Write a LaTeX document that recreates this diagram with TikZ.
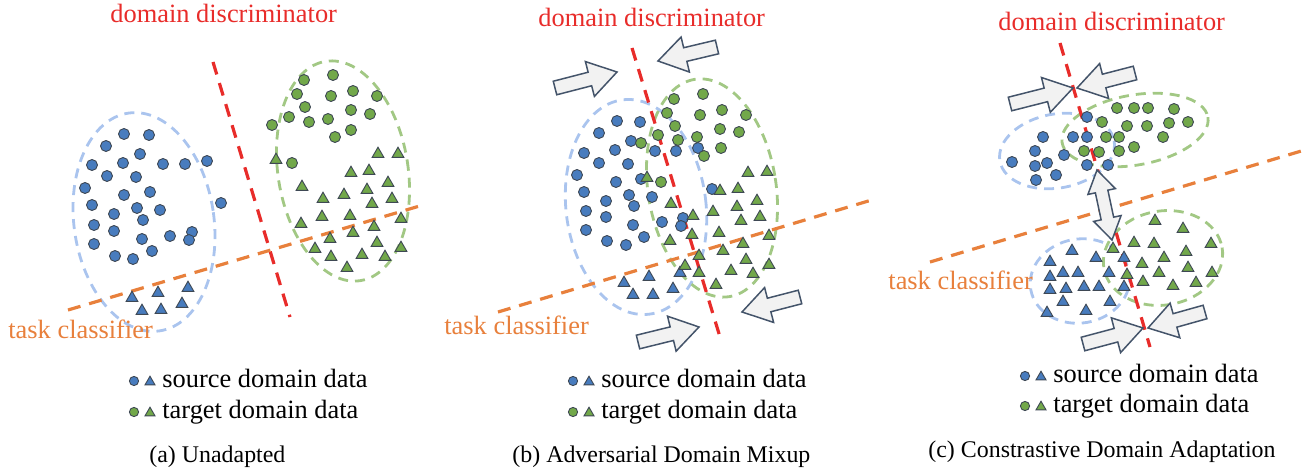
\documentclass[tikz,border=0pt]{standalone}
\usepackage{fontspec}
\setmainfont{LiberationSerif}[Extension=.ttf, UprightFont=*-Regular, BoldFont=*-Bold, ItalicFont=*-Italic, BoldItalicFont=*-BoldItalic]
\usetikzlibrary{shapes.geometric,calc,positioning}
\definecolor{discred}{RGB}{232,44,42}
\definecolor{taskorange}{RGB}{232,128,60}
\definecolor{srcblue}{RGB}{72,124,190}
\definecolor{tgtgreen}{RGB}{114,168,74}
\definecolor{ringblue}{RGB}{170,196,238}
\definecolor{ringgreen}{RGB}{162,200,132}
\definecolor{arrowedge}{RGB}{68,84,106}
\definecolor{arrowfill}{RGB}{242,242,242}
\definecolor{dotedge}{RGB}{62,72,84}
\tikzset{
    srcdot/.style ={circle, draw=dotedge, fill=srcblue, line width=0.45pt, inner sep=0pt, minimum size=5.5pt},
    tgtdot/.style ={srcdot, fill=tgtgreen},
    srctri/.style ={regular polygon, regular polygon sides=3, draw=dotedge, fill=srcblue, line width=0.45pt, inner sep=0pt, minimum size=6.8pt},
    tgttri/.style ={srctri, fill=tgtgreen},
    keydot/.style ={srcdot, minimum size=4.6pt},
    keytri/.style ={srctri, minimum size=5.8pt},
    srcring/.style ={ringblue, line width=1.4pt, dash pattern=on 5pt off 3.5pt},
    tgtring/.style ={ringgreen, line width=1.4pt, dash pattern=on 5pt off 3.5pt},
    discline/.style ={discred, line width=1.6pt, dash pattern=on 6.5pt off 4.5pt},
    taskline/.style ={taskorange, line width=1.6pt, dash pattern=on 6.5pt off 4.5pt},
    blockarrow/.style ={draw=arrowedge, fill=arrowfill, line width=0.75pt, line join=miter},
    disclabel/.style ={text=discred, inner sep=0pt, anchor=base west, font=\fontsize{13.2pt}{16pt}\selectfont},
    tasklabel/.style ={disclabel, text=taskorange},
    keylabel/.style ={disclabel, text=black},
    caption/.style ={inner sep=0pt, anchor=base west, font=\fontsize{11.95pt}{14pt}\selectfont}
}
% block arrow from tail #1 to tip #2
\newcommand{\blockarrow}[2]{%
    \coordinate (hb) at ($(#2)!14pt!(#1)$);
    \draw[blockarrow] ($(#1)!3.5pt!90:(#2)$) -- ($(hb)!3.5pt!90:(#2)$) -- ($(hb)!9pt!90:(#2)$) -- (#2)
        -- ($(hb)!9pt!-90:(#2)$) -- ($(hb)!3.5pt!-90:(#2)$) -- ($(#1)!3.5pt!-90:(#2)$) -- cycle;
}
% arrow with heads at both tips
\newcommand{\twowayarrow}[2]{%
    \coordinate (hb1) at ($(#1)!11pt!(#2)$);
    \coordinate (hb2) at ($(#2)!11pt!(#1)$);
    \draw[blockarrow] (#1) -- ($(hb1)!7pt!90:(#2)$) -- ($(hb1)!3.2pt!90:(#2)$) -- ($(hb2)!3.2pt!-90:(#1)$)
        -- ($(hb2)!7pt!-90:(#1)$) -- (#2) -- ($(hb2)!7pt!90:(#1)$) -- ($(hb2)!3.2pt!90:(#1)$)
        -- ($(hb1)!3.2pt!-90:(#2)$) -- ($(hb1)!7pt!-90:(#2)$) -- cycle;
}

\begin{document}
\begin{tikzpicture}[x=0.5pt, y=-0.5pt]
    \useasboundingbox (0,0) rectangle (1315,470);

    % (a) Unadapted

    %%Clusters
    \draw[srcring, rotate around={8:(144,222)}] (144,222) ellipse [x radius=70, y radius=110];
    \draw[tgtring, rotate around={9:(343,171)}] (343,171) ellipse [x radius=65, y radius=111];

    %%Boundaries
    \coordinate (a-disc-top) at (213,62);
    \coordinate (a-disc-bot) at (290,317);
    \coordinate (a-task-left) at (68,310);
    \coordinate (a-task-right) at (423,205);
    \draw[discline] (a-disc-top) -- (a-disc-bot);
    \draw[taskline] (a-task-left) -- (a-task-right);

    %%Data
    \foreach \px/\py [count=\i] in {124/134, 149/135, 106/146, 140/154, 92/165, 123/163, 163/164, 185/164, 207/161, 107/176, 136/177, 85/188, 124/195, 150/192, 92/205, 137/208, 160/210, 221/203, 114/214, 143/220, 94/225, 114/231, 170/236, 192/232, 189/240, 142/239, 94/244, 152/251, 115/256, 133/259}
        \node[srcdot] (a-s\i) at (\px,\py) {};
    \foreach \px/\py [count=\i] in {132/298, 158/293, 188/288, 142/311, 161/310, 182/304}
        \node[srctri] (a-st\i) at (\px,\py) {};
    \foreach \px/\py [count=\i] in {304/80, 333/75, 297/94, 331/96, 353/91, 377/96, 305/107, 351/110, 370/114, 289/117, 309/122, 328/119, 272/125, 335/137, 351/130, 292/163}
        \node[tgtdot] (a-t\i) at (\px,\py) {};
    \foreach \px/\py [count=\i] in {276/160, 378/154, 398/154, 351/173, 369/171, 302/187, 388/183, 323/199, 344/195, 367/190, 372/204, 392/199, 301/224, 322/217, 350/216, 401/219, 374/227, 353/233, 330/239, 315/249, 377/243, 401/248, 331/257, 362/255, 385/257, 347/268}
        \node[tgttri] (a-tt\i) at (\px,\py) {};

    %%Labels
    \node[disclabel] (a-disc) at (110,23) {domain discriminator};
    \node[tasklabel] (a-task) at (8,338) {task classifier};
    \node[keydot] (a-ks) at (134,381) {};
    \node[keytri] (a-kst) at (150,382) {};
    \node[keylabel] (a-src) at (162,387) {source domain data};
    \node[keydot, fill=tgtgreen] (a-kt) at (134,412) {};
    \node[keytri, fill=tgtgreen] (a-ktt) at (150,413) {};
    \node[keylabel] (a-tgt) at (162,418) {target domain data};
    \node[caption] (a-cap) at (149,462) {(a) Unadapted};

    % (b) Adversarial Domain Mixup

    %%Clusters
    \draw[srcring, rotate around={7:(636,207)}] (636,207) ellipse [x radius=70, y radius=108];
    \draw[tgtring, rotate around={9:(712,188)}] (712,188) ellipse [x radius=64, y radius=110];

    %%Boundaries
    \coordinate (b-disc-top) at (632,48);
    \coordinate (b-disc-bot) at (720,337);
    \coordinate (b-task-left) at (498,312);
    \coordinate (b-task-right) at (875,199);
    \draw[discline] (b-disc-top) -- (b-disc-bot);
    \draw[taskline] (b-task-left) -- (b-task-right);

    %%Data
    \foreach \px/\py [count=\i] in {617/121, 640/122, 599/133, 631/141, 584/153, 615/150, 655/151, 676/151, 698/148, 599/163, 628/164, 577/175, 616/182, 641/179, 584/192, 629/195, 652/197, 712/189, 606/201, 634/206, 586/211, 606/217, 633/225, 662/222, 683/218, 681/226, 586/230, 607/241, 626/245, 644/237}
        \node[srcdot] (b-s\i) at (\px,\py) {};
    \foreach \px/\py [count=\i] in {624/283, 649/277, 680/273, 633/295, 653/295, 673/289}
        \node[srctri] (b-st\i) at (\px,\py) {};
    \foreach \px/\py [count=\i] in {674/99, 703/94, 667/113, 700/115, 722/110, 746/115, 675/126, 720/129, 739/132, 658/135, 678/140, 697/137, 641/143, 721/148, 704/156, 661/182}
        \node[tgtdot] (b-t\i) at (\px,\py) {};
    \foreach \px/\py [count=\i] in {647/178, 748/173, 767/172, 720/191, 738/189, 671/204, 757/201, 693/216, 713/212, 737/207, 741/221, 760/217, 670/241, 692/235, 719/233, 769/236, 743/244, 723/251, 699/256, 685/266, 746/260, 769/265, 699/273, 731/271, 753/274, 716/285}
        \node[tgttri] (b-tt\i) at (\px,\py) {};

    %%Pushes
    \coordinate (b-tl-tail) at (555,88);
    \coordinate (b-tl-tip) at (617,72);
    \coordinate (b-tr-tail) at (717,47);
    \coordinate (b-tr-tip) at (658,61);
    \coordinate (b-br-tail) at (800,297);
    \coordinate (b-br-tip) at (742,312);
    \coordinate (b-bl-tail) at (638,342);
    \coordinate (b-bl-tip) at (699,327);
    \blockarrow{b-tl-tail}{b-tl-tip}
    \blockarrow{b-tr-tail}{b-tr-tip}
    \blockarrow{b-br-tail}{b-br-tip}
    \blockarrow{b-bl-tail}{b-bl-tip}

    %%Labels
    \node[disclabel] (b-disc) at (538,27) {domain discriminator};
    \node[tasklabel] (b-task) at (444,334) {task classifier};
    \node[keydot] (b-ks) at (573,381) {};
    \node[keytri] (b-kst) at (589,382) {};
    \node[keylabel] (b-src) at (601,387) {source domain data};
    \node[keydot, fill=tgtgreen] (b-kt) at (573,412) {};
    \node[keytri, fill=tgtgreen] (b-ktt) at (589,413) {};
    \node[keylabel] (b-tgt) at (601,418) {target domain data};
    \node[caption] (b-cap) at (512,462) {(b) Adversarial Domain Mixup};

    % (c) Constrastive Domain Adaptation

    %%Clusters
    \draw[srcring, rotate around={10:(1057,151)}] (1057,151) ellipse [x radius=58, y radius=37];
    \draw[tgtring, rotate around={10:(1135,130)}] (1135,130) ellipse [x radius=74, y radius=35];
    \draw[srcring, rotate around={10:(1080,281)}] (1080,281) ellipse [x radius=50, y radius=42];
    \draw[tgtring, rotate around={10:(1163,258)}] (1163,258) ellipse [x radius=60, y radius=47];

    %%Boundaries
    \coordinate (c-disc-top) at (1060,43);
    \coordinate (c-disc-bot) at (1150,347);
    \coordinate (c-task-left) at (930,262);
    \coordinate (c-task-right) at (1308,149);
    \draw[discline] (c-disc-top) -- (c-disc-bot);
    \draw[taskline] (c-task-left) -- (c-task-right);

    %%Data
    \foreach \px/\py [count=\i] in {1087/117, 1043/137, 1073/137, 1087/137, 1035/151, 1064/155, 1012/162, 1035/166, 1047/163, 1087/165, 1108/165, 1056/175, 1036/180}
        \node[srcdot] (c-s\i) at (\px,\py) {};
    \foreach \px/\py [count=\i] in {1117/108, 1134/108, 1148/108, 1174/109, 1102/122, 1127/126, 1147/126, 1169/123, 1188/122, 1106/137, 1119/137, 1163/137, 1084/151, 1099/152, 1119/151, 1134/147}
        \node[tgtdot] (c-t\i) at (\px,\py) {};
    \foreach \px/\py [count=\i] in {1072/251, 1050/262, 1096/258, 1124/258, 1050/277, 1063/273, 1078/273, 1109/273, 1050/290, 1066/289, 1084/287, 1099/287, 1124/287, 1063/302, 1110/302, 1047/313, 1086/311}
        \node[srctri] (c-st\i) at (\px,\py) {};
    \foreach \px/\py [count=\i] in {1155/221, 1183/229, 1113/249, 1134/243, 1154/244, 1211/244, 1186/252, 1164/258, 1142/264, 1127/275, 1159/273, 1188/268, 1212/273, 1143/282, 1173/286, 1196/283}
        \node[tgttri] (c-tt\i) at (\px,\py) {};

    %%Pushes
    \coordinate (c-tl-tail) at (1010,104);
    \coordinate (c-tl-tip) at (1073,88);
    \coordinate (c-tr-tail) at (1135,73);
    \coordinate (c-tr-tip) at (1077,88);
    \coordinate (c-bl-tail) at (1083,344);
    \coordinate (c-bl-tip) at (1143,328);
    \coordinate (c-br-tail) at (1205,312);
    \coordinate (c-br-tip) at (1148,328);
    \coordinate (c-pair-top) at (1097,170);
    \coordinate (c-pair-bot) at (1112,240);
    \blockarrow{c-tl-tail}{c-tl-tip}
    \blockarrow{c-tr-tail}{c-tr-tip}
    \blockarrow{c-bl-tail}{c-bl-tip}
    \blockarrow{c-br-tail}{c-br-tip}
    \twowayarrow{c-pair-top}{c-pair-bot}

    %%Labels
    \node[disclabel] (c-disc) at (998,31) {domain discriminator};
    \node[tasklabel] (c-task) at (888,289) {task classifier};
    \node[keydot] (c-ks) at (1025,376) {};
    \node[keytri] (c-kst) at (1041,377) {};
    \node[keylabel] (c-src) at (1053,382) {source domain data};
    \node[keydot, fill=tgtgreen] (c-kt) at (1025,406) {};
    \node[keytri, fill=tgtgreen] (c-ktt) at (1041,407) {};
    \node[keylabel] (c-tgt) at (1053,412) {target domain data};
    \node[caption] (c-cap) at (928,457) {(c) Constrastive Domain Adaptation};
\end{tikzpicture}
\end{document}
